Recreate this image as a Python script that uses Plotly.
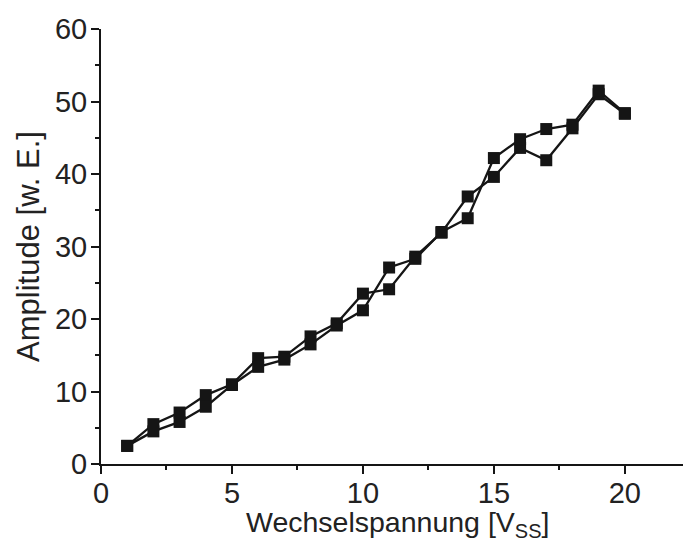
import plotly.graph_objects as go

x_volt = list(range(1, 21))
amp_run1 = [2.5, 5.5, 7.1, 9.5, 11.0, 14.6, 14.8, 17.6, 19.4, 23.5,
            24.1, 28.6, 31.9, 36.9, 39.6, 43.6, 41.9, 46.3, 51.0, 48.3]
amp_run2 = [2.5, 4.5, 5.8, 7.9, 10.9, 13.4, 14.4, 16.5, 19.1, 21.2,
            27.1, 28.3, 32.0, 33.9, 42.2, 44.8, 46.2, 46.8, 51.5, 48.4]

x_ticks = [0, 5, 10, 15, 20]
y_ticks = [0, 10, 20, 30, 40, 50, 60]

FONT = "Liberation Sans, Arial, sans-serif"
INK = "#151515"
TXT = "#222"

fig = go.Figure()
for ys in (amp_run1, amp_run2):
    fig.add_trace(go.Scatter(
        x=x_volt, y=ys, mode="lines+markers",
        line=dict(color=INK, width=2.3),
        marker=dict(symbol="square", size=12, color=INK, line=dict(width=0)),
        showlegend=False, cliponaxis=False,
    ))

axis_common = dict(
    showline=True, linecolor=INK, linewidth=2,
    ticks="outside", ticklen=8, tickwidth=2, tickcolor=INK,
    showgrid=False, zeroline=False,
    tickfont=dict(family=FONT, size=29, color=TXT),
)

fig.update_xaxes(
    range=[0, 22.22], tickvals=x_ticks, ticktext=[str(v) for v in x_ticks],
    minor=dict(tickvals=[2.5, 7.5, 12.5, 17.5], ticklen=4, tickwidth=2,
               tickcolor=INK, ticks="outside", showgrid=False),
    ticklabelstandoff=-6,
    **axis_common,
)
fig.update_yaxes(
    range=[0, 60], tickvals=y_ticks, ticktext=[str(v) for v in y_ticks],
    minor=dict(tickvals=[5, 15, 25, 35, 45, 55], ticklen=4, tickwidth=2,
               tickcolor=INK, ticks="outside", showgrid=False),
    ticklabelstandoff=-2,
    title=dict(text="Amplitude [w. E.]",
               font=dict(family=FONT, size=31, color=TXT), standoff=6),
    **axis_common,
)

# x-axis title as an annotation for precise placement below tick labels
fig.add_annotation(
    text="Wechselspannung [V<sub>SS</sub>]", showarrow=False,
    xref="paper", yref="paper", x=0.51, y=0, xanchor="center", yanchor="top",
    yshift=-40, font=dict(family=FONT, size=28.5, color=TXT),
)

# small axis extensions past the origin
fig.add_shape(type="line", xref="paper", yref="paper",
              x0=-9 / 582, x1=0, y0=0, y1=0,
              line=dict(color=INK, width=2))
fig.add_shape(type="line", xref="paper", yref="paper",
              x0=0, x1=0, y0=-6 / 435, y1=0,
              line=dict(color=INK, width=2))

fig.update_layout(
    width=683, height=541,
    margin=dict(l=101, r=0, t=29, b=77),
    paper_bgcolor="white", plot_bgcolor="white",
    font=dict(family=FONT),
)

fig.write_html("out.html")
